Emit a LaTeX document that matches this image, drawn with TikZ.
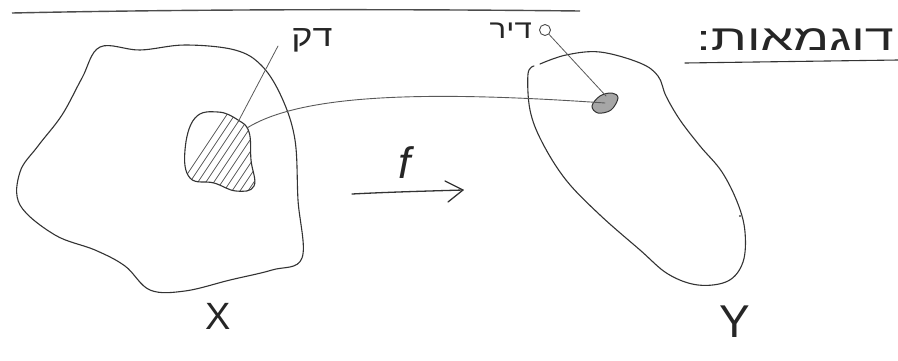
\documentclass[tikz,border=0pt]{standalone}
\usepackage{fontspec}
\setmainfont{Liberation Sans}
\newfontfamily\hebfont[Script=Hebrew]{Liberation Sans}
\TeXXeTstate=1
\begin{document}
\begin{tikzpicture}[x=1pt,y=-1pt,
  pen/.style={draw=black!80, line width=1.1pt, line cap=round, line join=round},
  thinpen/.style={draw=black!65, line width=0.8pt, line cap=round},
  hand/.style={text=black!85, inner sep=0pt},
  heb/.style={hand, font=\hebfont}]
\useasboundingbox[fill=white] (0,0) rectangle (898,360);

% top page line
\draw[black!70, line width=1.4pt] (12,13) .. controls (200,9) and (400,9) .. (580,11);

% header
\node[heb, anchor=east] (hdr) at (894,40) {\scalebox{1.45}[1]{\fontsize{36}{36}\selectfont\beginR דוגמאות:\endR}};
\coordinate (ulA) at (685,63);
\coordinate (ulB) at (898,60);
\draw[pen] (ulA) -- (ulB);

% X blob
\draw[pen] plot[smooth cycle, tension=0.6] coordinates {
 (100,47) (140,50) (185,45) (235,50) (262,66) (282,98) (295,140)
 (298,200) (302,258) (272,270) (230,280) (185,291) (150,290)
 (125,266) (95,250) (55,235) (20,205) (20,172) (38,146) (62,115) (82,78)};

% hatched set
\begin{scope}
\path[clip] plot[smooth cycle, tension=0.7] coordinates {
 (195,118) (218,112) (238,120) (249,132) (251,160) (254,186) (236,191)
 (214,183) (190,178) (185,150)};
\foreach \k in {0,...,14}{
  \draw[thinpen] (160+\k*8,215) -- (240+\k*8,95);
}
\end{scope}
\draw[pen] plot[smooth cycle, tension=0.7] coordinates {
 (195,118) (218,112) (238,120) (249,132) (251,160) (254,186) (236,191)
 (214,183) (190,178) (185,150)};
\coordinate (setTop) at (238,122);
\coordinate (setRight) at (247,128);

% label of the set
\node[heb, anchor=center] (lblset) at (312,40) {\scalebox{1.2}[1]{\fontsize{30}{30}\selectfont\beginR דק\endR}};
\coordinate (lblsetA) at (278,46);
\draw[thinpen] (lblsetA) -- (setTop);

% Y blob (open curve)
\draw[pen] plot[smooth, tension=0.6] coordinates {
 (534,66) (528,74) (530,110) (542,142) (566,180) (600,215) (640,250)
 (668,274) (698,285) (728,281) (743,262) (745,232) (738,204)
 (722,172) (700,146) (680,120) (666,96) (658,76) (640,63) (600,52)
 (566,55) (540,64)};
\fill[black!70] (740,216) circle (1.2);

% point in Y
\path[fill=black!35, draw=black!80, line width=1pt]
 plot[smooth cycle, tension=0.6] coordinates {(592,106) (600,96) (612,93) (618,98) (611,110) (598,113)};
\node[inner sep=0pt, minimum size=1pt] (pt) at (605,103) {};
\coordinate (ptTop) at (606,96);

% mapping curve
\draw[thinpen, line width=0.9pt] (setRight) .. controls (300,95) and (420,90) .. (pt.center);

% label of the point
\node[circle, draw=black!70, line width=0.9pt, minimum size=11pt, inner sep=0pt] (ring) at (545,30) {};
\node[heb, anchor=east] (lblpt) at (532,31) {\scalebox{1.2}[1]{\fontsize{26}{26}\selectfont\beginR דיר\endR}};
\draw[thinpen] (ring) -- (ptTop);

% f arrow
\node[hand, font=\fontsize{44}{44}\selectfont\itshape] (f) at (405,163) {f};
\coordinate (arrA) at (352,194);
\coordinate (arrB) at (463,190);
\draw[pen, line width=1.3pt] (arrA) .. controls (390,192) and (430,191) .. (arrB);
\coordinate (tip1) at (445,181);
\coordinate (tip2) at (448,202);
\draw[pen, line width=1.3pt] (tip1) -- (arrB) -- (tip2);

% X and Y labels
\node[hand, font=\fontsize{38}{38}\selectfont] (lx) at (218,316) {X};
\node[hand, font=\fontsize{46}{46}\selectfont] (ly) at (735,322) {Y};
\end{tikzpicture}
\end{document}
